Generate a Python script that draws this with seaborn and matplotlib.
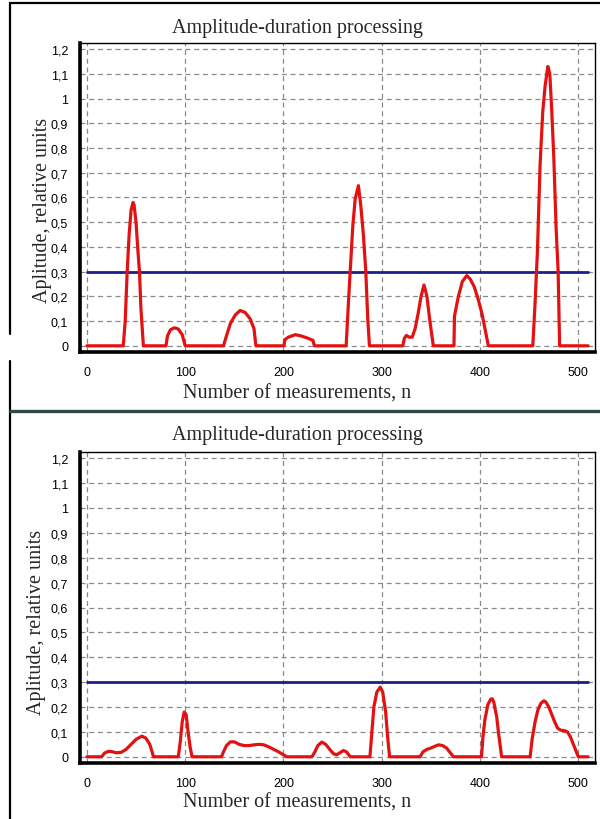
import numpy as np
import pandas as pd
import seaborn as sns
import matplotlib.pyplot as plt
from matplotlib.ticker import FuncFormatter, MultipleLocator
from matplotlib.lines import Line2D

# --- DATA ---
TITLE = "Amplitude-duration processing"
XLABEL = "Number of measurements, n"
YLABEL = "Aplitude, relative units"
THRESHOLD = 0.3
THRESHOLD_N = [0, 510]

top_n = [0, 37, 39, 41, 43, 45, 47, 48, 50, 52, 53.5, 55, 57.5,
         80.5, 82, 85, 89, 93, 97, 100,
         139, 142, 146, 151, 156, 161, 166, 170, 172,
         200.5, 201.5, 205, 212, 218, 224, 230, 231.5,
         263.8, 266.2, 267.9, 270.6, 273, 276.3, 278.7, 281.4, 283.8, 285.8, 287.5,
         321.5, 323, 325, 328, 331, 334, 337, 340, 343, 346, 349, 352.5,
         373.5, 374, 378, 382, 386.5, 390, 394, 398, 402, 406, 408.5,
         453.7, 456.1, 458.4, 461.1, 463.8, 466.2, 469, 471, 473, 475, 477.5, 479.5, 481, 510]
top_amp = [0, 0, 0.1, 0.3, 0.45, 0.55, 0.58, 0.57, 0.5, 0.38, 0.3, 0.15, 0,
           0, 0.04, 0.065, 0.073, 0.068, 0.045, 0,
           0, 0.04, 0.09, 0.125, 0.143, 0.135, 0.11, 0.07, 0,
           0, 0.025, 0.035, 0.045, 0.04, 0.032, 0.022, 0,
           0, 0.18, 0.3, 0.486, 0.594, 0.648, 0.567, 0.446, 0.3, 0.109, 0,
           0, 0.03, 0.042, 0.035, 0.035, 0.07, 0.13, 0.2, 0.246, 0.2, 0.1, 0,
           0, 0.12, 0.2, 0.26, 0.284, 0.27, 0.24, 0.19, 0.13, 0.05, 0,
           0, 0.18, 0.38, 0.73, 0.945, 1.05, 1.13, 1.1, 0.95, 0.77, 0.47, 0.3, 0, 0]

bottom_n = [0, 15, 18, 22, 26, 30, 35, 40, 45, 50, 56, 60, 64, 67.8,
            93, 95, 97, 99, 101, 103, 105, 107,
            137, 139, 142, 146, 150, 155, 160, 165, 170, 175, 180, 185, 190, 195, 200, 203.5,
            229, 232, 235, 239, 243, 247, 251, 254, 257, 261, 264, 268,
            288, 290, 292, 295, 298.5, 301, 304, 306, 308,
            339, 342, 346, 350, 354, 358, 362, 366, 370, 373,
            401.5, 403, 405, 408, 411, 412.5, 414, 417, 419, 422,
            451, 453, 456, 459, 462, 465, 467, 470, 473, 476, 479, 482, 486, 489,
            492, 495, 498, 500, 510]
bottom_amp = [0, 0, 0.015, 0.022, 0.02, 0.016, 0.018, 0.03, 0.05, 0.07, 0.083, 0.075, 0.05, 0,
              0, 0.06, 0.14, 0.18, 0.17, 0.1, 0.04, 0,
              0, 0.02, 0.045, 0.06, 0.06, 0.05, 0.045, 0.045, 0.048, 0.05, 0.048, 0.04, 0.03,
              0.02, 0.008, 0,
              0, 0.02, 0.045, 0.059, 0.05, 0.03, 0.012, 0.008, 0.015, 0.025, 0.02, 0,
              0, 0.1, 0.2, 0.26, 0.28, 0.26, 0.18, 0.08, 0,
              0, 0.02, 0.03, 0.035, 0.042, 0.048, 0.045, 0.035, 0.015, 0,
              0, 0.08, 0.15, 0.21, 0.232, 0.233, 0.22, 0.16, 0.09, 0,
              0, 0.07, 0.14, 0.19, 0.215, 0.225, 0.22, 0.2, 0.17, 0.14, 0.115, 0.107, 0.105, 0.1,
              0.08, 0.05, 0.02, 0, 0]

assert len(top_n) == len(top_amp)
assert len(bottom_n) == len(bottom_amp)

RED = "#e31212"
NAVY = "#1f1f8a"
SERIF = ["Liberation Serif", "DejaVu Serif"]


def comma_format(v, pos):
    s = f"{round(v, 1):g}".replace(".", ",")
    return "0" if s in ("-0", "0") else s


def style_axes(ax):
    ax.set_xlim(-7, 517)
    ax.set_ylim(-0.025, 1.225)
    ax.xaxis.set_major_locator(MultipleLocator(100))
    ax.xaxis.set_minor_locator(MultipleLocator(25))
    ax.yaxis.set_major_locator(MultipleLocator(0.1))
    ax.yaxis.set_major_formatter(FuncFormatter(comma_format))
    ax.grid(True, which="major", color="#8a8a8a", linestyle=(0, (4, 3)), linewidth=0.9)
    ax.tick_params(axis="both", which="major", direction="out", length=5, width=1,
                   labelsize=9, colors="black")
    ax.tick_params(axis="x", which="major", pad=5)
    ax.tick_params(axis="x", which="minor", direction="out", length=3, width=1)
    for side in ("left", "bottom"):
        ax.spines[side].set_linewidth(2.6)
    for side in ("top", "right"):
        ax.spines[side].set_linewidth(1.0)
    for sp in ax.spines.values():
        sp.set_visible(True)
        sp.set_color("black")
    ax.set_xlabel("")
    ax.set_ylabel("")
    if ax.get_legend() is not None:
        ax.get_legend().remove()


def draw_panel(fig, ax, n, amp, title_y, xlabel_y, ylabel_x, ylabel_y):
    df = pd.DataFrame({"n": n, "amp": amp})
    thr = pd.DataFrame({"n": THRESHOLD_N, "amp": [THRESHOLD] * len(THRESHOLD_N)})
    sns.lineplot(data=thr, x="n", y="amp", color=NAVY, linewidth=2.0, ax=ax)
    sns.lineplot(data=df, x="n", y="amp", color=RED, linewidth=2.3, ax=ax,
                 sort=False, estimator=None)
    style_axes(ax)
    fig.text(0.495, title_y, TITLE, ha="center", va="center", fontsize=14.5, family=SERIF)
    fig.text(0.495, xlabel_y, XLABEL, ha="center", va="center", fontsize=14.5, family=SERIF)
    fig.text(ylabel_x, ylabel_y, YLABEL, ha="center", va="center", rotation=90,
             fontsize=14.5, family=SERIF)


def main():
    sns.set_style("white")
    plt.rcParams["font.family"] = ["Liberation Sans", "DejaVu Sans"]

    fig = plt.figure(figsize=(6, 8.2), dpi=100)
    H = 820.0
    W = 600.0
    ax1 = fig.add_axes([80 / W, 1 - 353 / H, 515 / W, 309 / H])
    ax2 = fig.add_axes([80 / W, 1 - 764 / H, 515 / W, 311 / H])

    draw_panel(fig, ax1, top_n, top_amp, 1 - 28 / H, 1 - 394 / H, 42 / W, 1 - 210 / H)
    draw_panel(fig, ax2, bottom_n, bottom_amp, 1 - 436 / H, 1 - 803 / H, 37 / W, 1 - 622 / H)

    # screenshot frame lines
    fig.add_artist(Line2D([10 / W, 10 / W], [1 - 4 / H, 1 - 335 / H],
                          color="black", linewidth=1.6))
    fig.add_artist(Line2D([10 / W, 10 / W], [1 - 362 / H, 0],
                          color="black", linewidth=1.6))
    fig.add_artist(Line2D([10 / W, 1], [1 - 4 / H, 1 - 4 / H],
                          color="black", linewidth=1.6))
    fig.add_artist(Line2D([10 / W, 1], [1 - 411.5 / H, 1 - 411.5 / H],
                          color="#2e4a4a", linewidth=2.4))

    fig.savefig("out.png", dpi=100, facecolor="white")
    plt.close(fig)


if __name__ == "__main__":
    main()
